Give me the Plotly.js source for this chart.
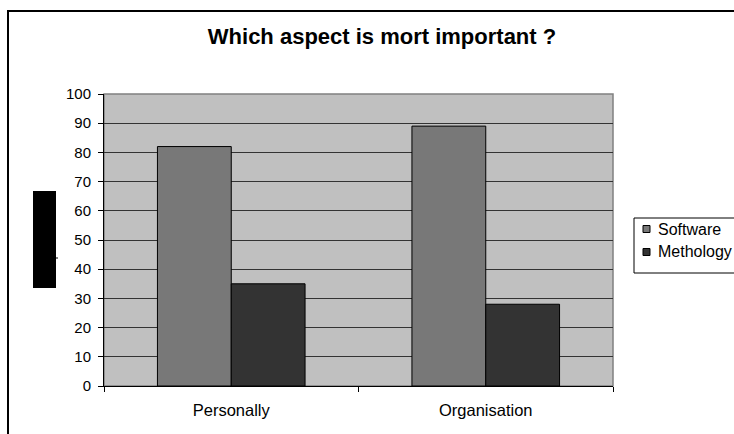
<!DOCTYPE html>
<html>
<head>
<meta charset="utf-8">
<script src="https://cdn.plot.ly/plotly-3.0.1.min.js"></script>
<style>html,body{margin:0;padding:0;background:#fff;overflow:hidden;}#chart{width:734px;height:434px;overflow:hidden;}</style>
</head>
<body>
<div id="chart"></div>
<script>
const categories = ["Personally", "Organisation"];
const softwareValues = [82, 89];
const methologyValues = [35, 28];
const seriesNames = ["Software", "Methology"];
const seriesColors = ["#787878", "#333333"];
const chartTitle = "Which aspect is mort important ?";

const L = 104, R = 613, T = 94, B = 386, W = 734, H = 434;
const px = x => (x - L) / (R - L);
const py = y => (B - y) / (B - T);

const fam = "Arial, 'Liberation Sans', sans-serif";
const yfont = {family: fam, size: 15, color: "#000"};
const xfont = {family: fam, size: 16.5, color: "#000"};

const seriesValues = [softwareValues, methologyValues];
const traces = seriesNames.map((name, i) => ({
  type: "bar", name: name, x: categories, y: seriesValues[i],
  marker: {color: seriesColors[i], line: {color: "#000", width: 1}}
}));

// manual legend (box, swatches, labels) placed like the reference
const legendShapes = [
  {type: "rect", xref: "paper", yref: "paper", x0: px(634), x1: px(745), y0: py(273), y1: py(218),
   fillcolor: "#fff", line: {color: "#000", width: 1}}
];
const legendAnnots = [];
const rowY = [229, 252];
seriesNames.forEach((name, i) => {
  legendShapes.push({type: "rect", xref: "paper", yref: "paper",
    x0: px(643), x1: px(650), y0: py(rowY[i] + 3.5), y1: py(rowY[i] - 3.5),
    fillcolor: seriesColors[i], line: {color: "#000", width: 1}});
  legendAnnots.push({xref: "paper", yref: "paper", x: px(656), y: py(rowY[i]),
    xanchor: "left", yanchor: "middle", showarrow: false, text: name,
    font: {family: fam, size: 16, color: "#000"}});
});

const layout = {
  width: W, height: H,
  margin: {l: L, r: W - R, t: T, b: H - B, pad: 0, autoexpand: false},
  paper_bgcolor: "#fff",
  plot_bgcolor: "#c0c0c0",
  font: yfont,
  barmode: "group",
  bargap: 0.42,
  bargroupgap: 0,
  showlegend: false,
  title: {text: "<b>" + chartTitle + "</b>", font: {family: fam, size: 22, color: "#000"},
          x: 382 / W, xref: "container", xanchor: "center", y: 1 - 36 / H, yref: "container", yanchor: "middle"},
  xaxis: {showline: true, linecolor: "#000", linewidth: 1, ticks: "outside", tickson: "boundaries",
          ticklen: 5, tickcolor: "#000", showgrid: false, tickfont: xfont, ticklabelstandoff: 9,
          fixedrange: true},
  yaxis: {range: [0, 100], dtick: 10, showline: true, linecolor: "#000", linewidth: 1,
          ticks: "outside", ticklen: 5, tickcolor: "#000", showgrid: true, gridcolor: "#333",
          gridwidth: 1, zeroline: false, tickfont: yfont, ticklabelstandoff: 4, fixedrange: true},
  shapes: [
    {type: "rect", xref: "paper", yref: "paper", x0: 0, x1: 1, y0: 0, y1: 1,
     line: {color: "#808080", width: 1.5}, layer: "below"},
    {type: "rect", xref: "paper", yref: "paper", x0: px(8), x1: px(800), y0: py(500), y1: py(11),
     line: {color: "#000", width: 2}},
    {type: "rect", xref: "paper", yref: "paper", x0: px(33), x1: px(56), y0: py(288), y1: py(191),
     fillcolor: "#000", line: {width: 0}},
    {type: "line", xref: "paper", yref: "paper", x0: px(56), x1: px(58), y0: py(258), y1: py(258),
     line: {color: "#000", width: 1}}
  ].concat(legendShapes),
  annotations: legendAnnots
};

Plotly.newPlot("chart", traces, layout, {displayModeBar: false, staticPlot: true});
</script>
</body>
</html>
